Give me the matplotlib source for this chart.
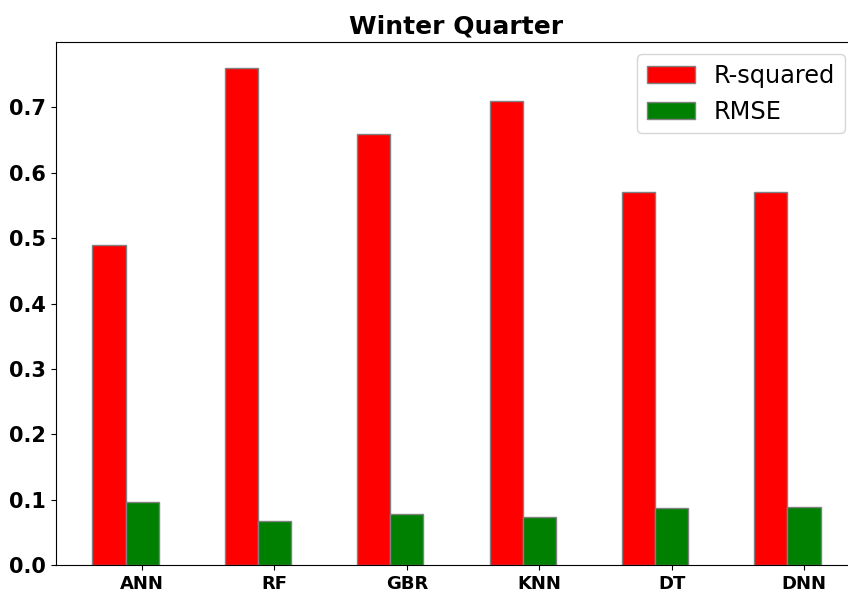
import matplotlib
matplotlib.use("Agg")
import matplotlib.pyplot as plt
import numpy as np

models = ["ANN", "RF", "GBR", "KNN", "DT", "DNN"]
r_squared = [0.49, 0.76, 0.66, 0.71, 0.57, 0.57]
rmse = [0.097, 0.067, 0.078, 0.073, 0.087, 0.089]

bar_width = 0.25
r = np.arange(len(models))

fig = plt.figure(figsize=(8.48, 5.94), dpi=100)
W, H = 848, 594
left, right = 56, 857
bottom, top = 594 - 565, 594 - 42
ax = fig.add_axes([left / W, bottom / H, (right - left) / W, (top - bottom) / H])

ax.bar(r, r_squared, width=bar_width, color="red", edgecolor="grey", label="R-squared")
ax.bar(r + bar_width, rmse, width=bar_width, color="green", edgecolor="grey", label="RMSE")

ax.set_xticks(r + bar_width)
ax.set_xticklabels(models, fontsize=13, fontweight="bold")
ax.set_ylim(0, 0.8)
ax.set_yticks([0.0, 0.1, 0.2, 0.3, 0.4, 0.5, 0.6, 0.7])
ax.set_yticklabels(["0.0", "0.1", "0.2", "0.3", "0.4", "0.5", "0.6", "0.7"], fontsize=15, fontweight="bold")
ax.set_title("Winter Quarter", fontsize=18, fontweight="bold")
ax.legend(fontsize=17.3, loc="upper right")

fig.savefig("out.png", dpi=100)
